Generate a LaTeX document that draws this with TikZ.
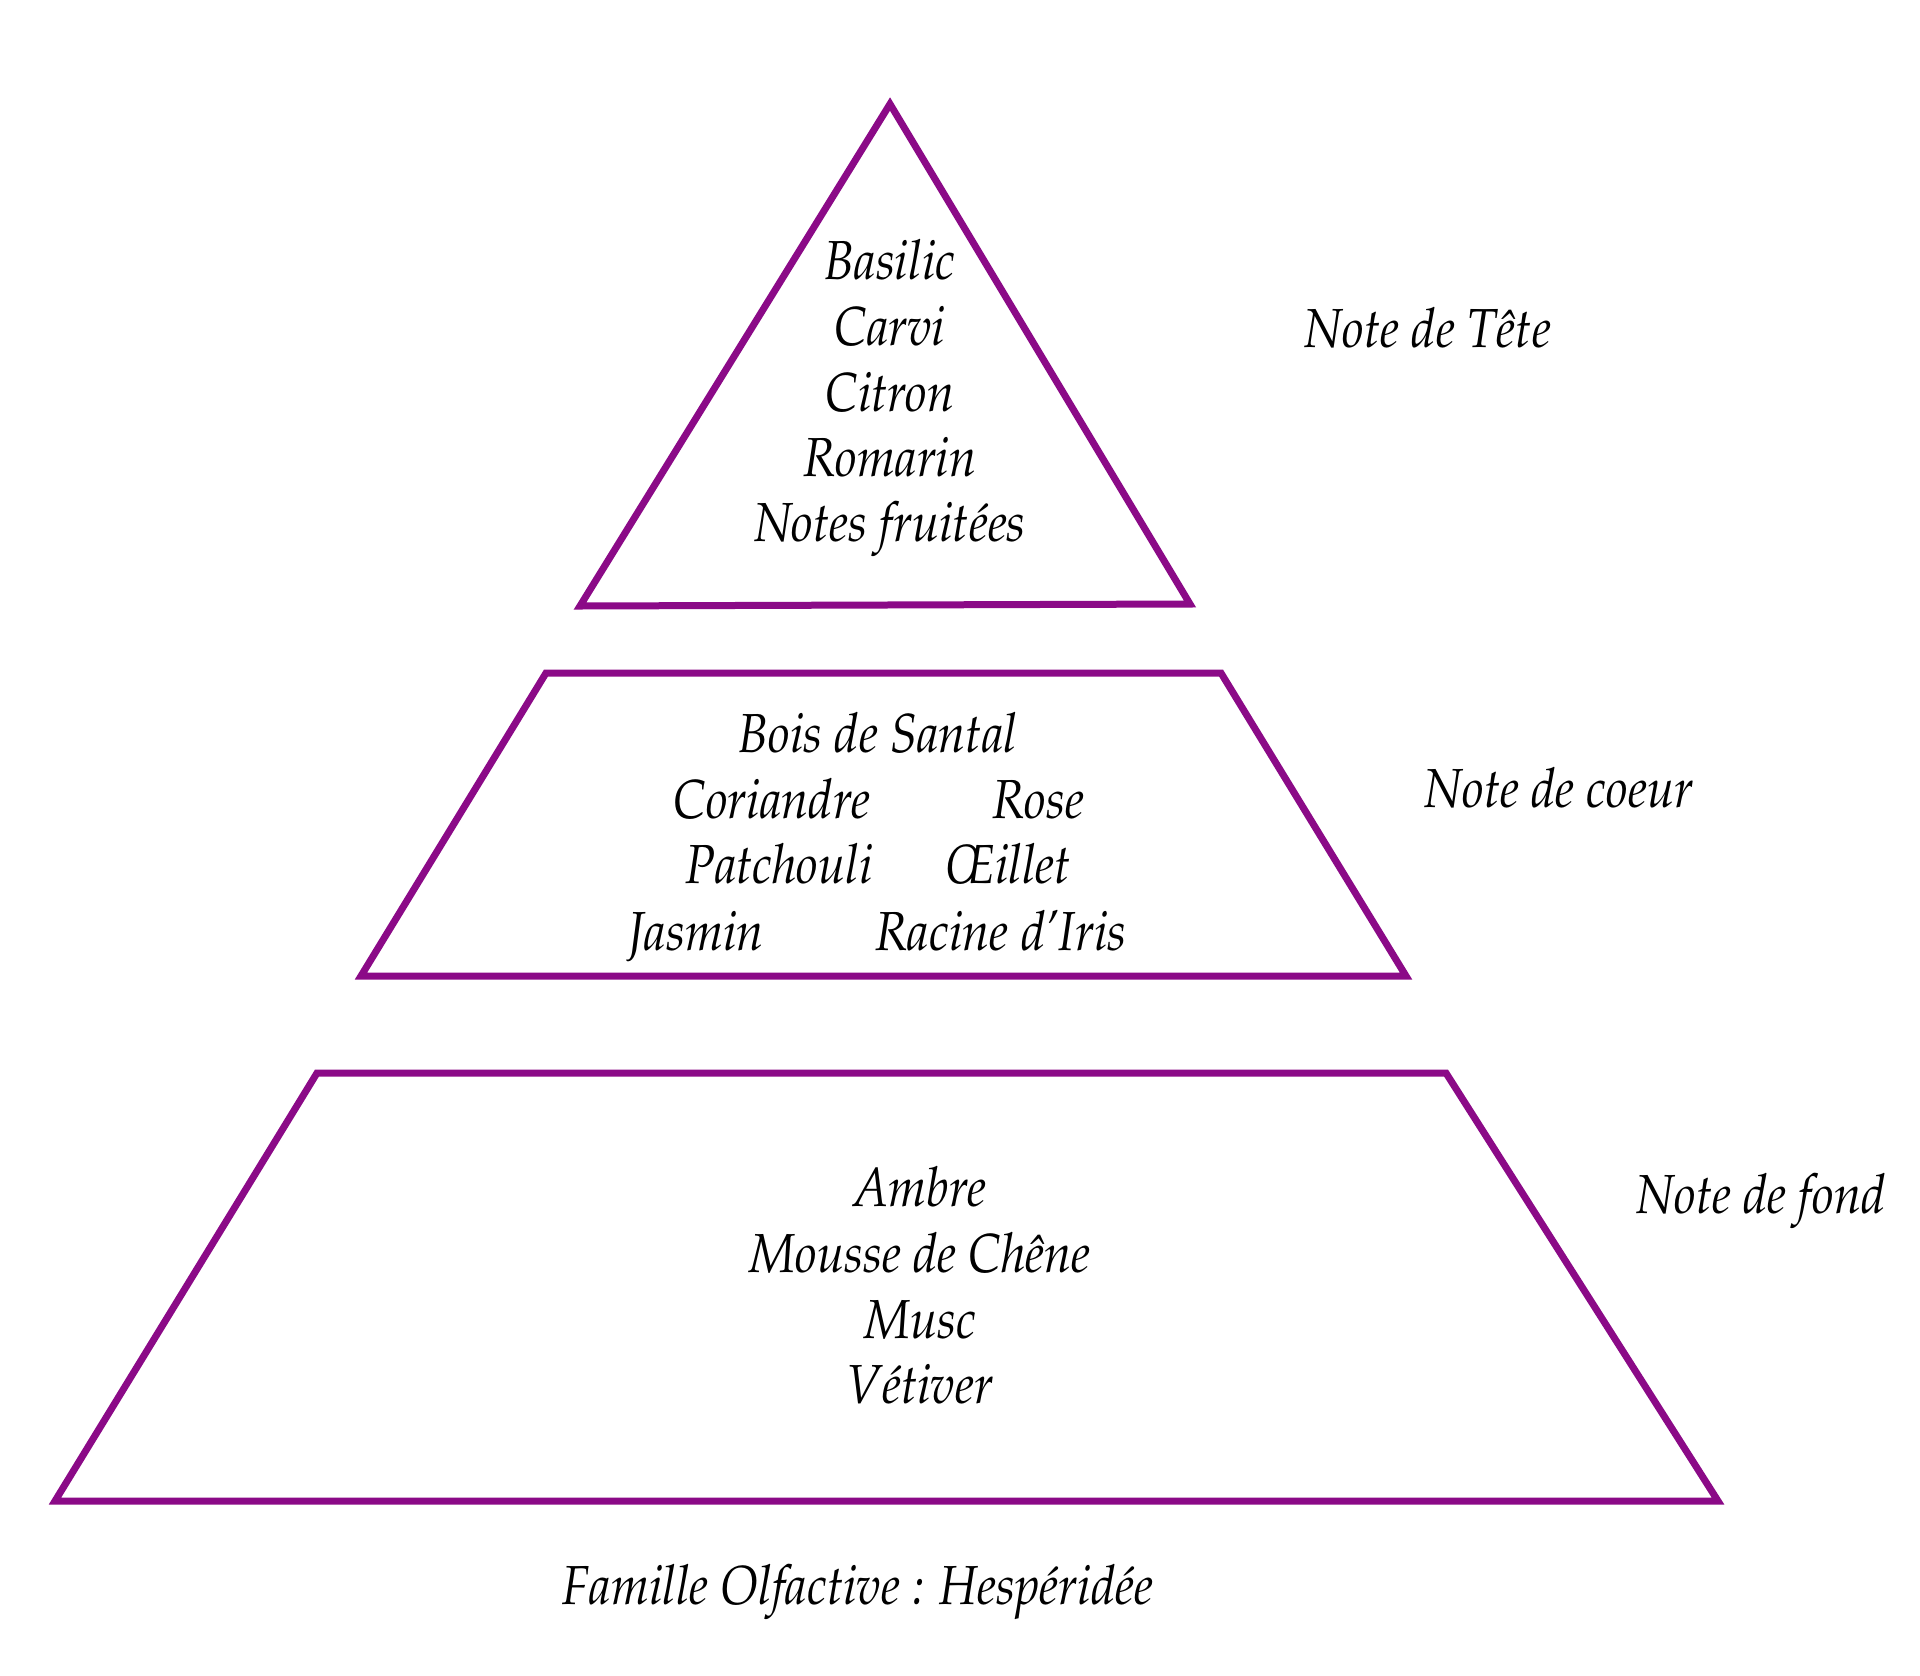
\documentclass[tikz,border=0pt]{standalone}
\usepackage[T1]{fontenc}
\usepackage{mathpazo}
\usepackage{graphicx}
\definecolor{pyr}{HTML}{8B0A87}
\newcommand{\narrowtxt}[1]{\scalebox{0.885}[1]{#1}}
\tikzset{
  tier/.style={draw=pyr, line width=7pt, line join=miter},
  lbl/.style={anchor=base, inner sep=0pt, font=\fontsize{55}{66}\selectfont\itshape, text=black},
}
\begin{document}
\begin{tikzpicture}[x=1pt,y=-1pt]
\useasboundingbox[fill=white] (0,0) rectangle (1920,1676);
% tiers
\draw[tier] (890,104) -- (1190,604) -- (580,606) -- cycle;
\draw[tier] (546,673) -- (1221,673) -- (1406,976) -- (361,976) -- cycle;
\draw[tier] (317,1073) -- (1446,1073) -- (1718,1501) -- (55,1501) -- cycle;
% top
\node[lbl] (t1) at (890,279) {\narrowtxt{Basilic}};
\node[lbl] (t2) at (890,345) {\narrowtxt{Carvi}};
\node[lbl] (t3) at (890,411) {\narrowtxt{Citron}};
\node[lbl] (t4) at (890,476) {\narrowtxt{Romarin}};
\node[lbl] (t5) at (890,541) {\narrowtxt{Notes fruit\'ees}};
\node[lbl] (nt) at (1428,347) {\narrowtxt{Note de T\^ete}};
% middle
\node[lbl] (m1) at (878,752) {\narrowtxt{Bois de Santal}};
\node[lbl] (m2) at (772,818) {\narrowtxt{Coriandre}};
\node[lbl] (m3) at (1038,818) {\narrowtxt{Rose}};
\node[lbl] (m4) at (779,883) {\narrowtxt{Patchouli}};
\node[lbl] (m5) at (1008,883) {\narrowtxt{\OE illet}};
\node[lbl] (m6) at (696,950) {\narrowtxt{Jasmin}};
\node[lbl] (m7) at (1001,950) {\narrowtxt{Racine d'Iris}};
\node[lbl] (nc) at (1559,807) {\narrowtxt{Note de coeur}};
% bottom
\node[lbl] (b1) at (920,1206) {\narrowtxt{Ambre}};
\node[lbl] (b2) at (920,1272) {\narrowtxt{Mousse de Ch\^ene}};
\node[lbl] (b3) at (920,1338) {\narrowtxt{Musc}};
\node[lbl] (b4) at (920,1403) {\narrowtxt{V\'etiver}};
\node[lbl] (nf) at (1761,1213) {\narrowtxt{Note de fond}};
\node[lbl] (fam) at (858,1604) {\narrowtxt{Famille Olfactive : Hesp\'erid\'ee}};
\end{tikzpicture}
\end{document}
